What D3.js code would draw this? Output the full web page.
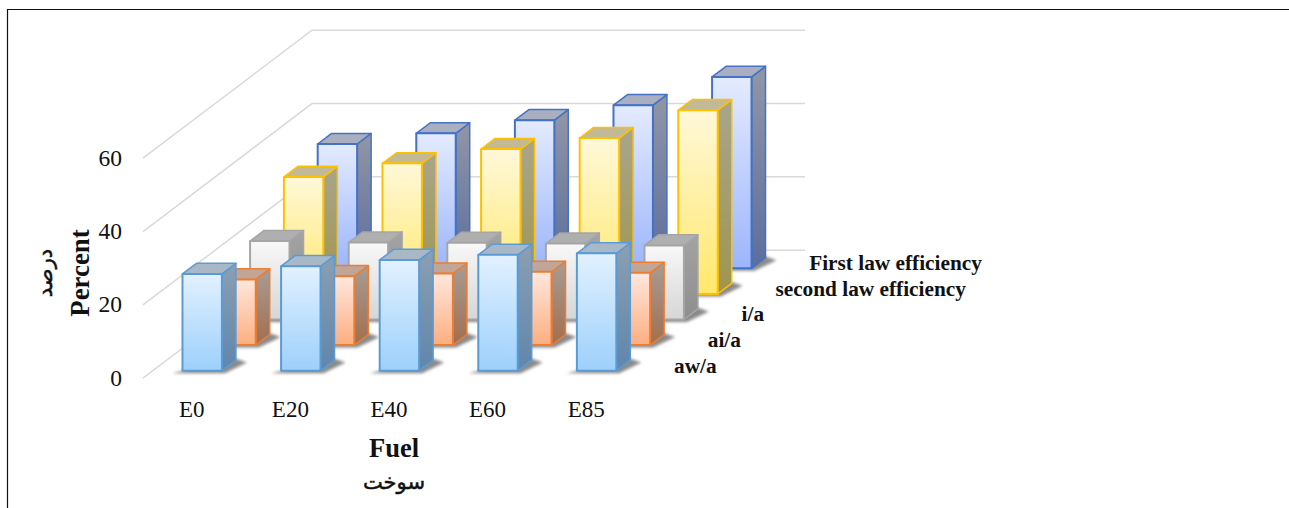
<!DOCTYPE html>
<html>
<head>
<meta charset="utf-8">
<script src="https://cdn.jsdelivr.net/npm/d3@7"></script>
<style>
    html, body { margin: 0; padding: 0; background: #fff; overflow: hidden; }
    text { font-family: "Liberation Serif", serif; fill: #111; }
    .fa { font-family: "DejaVu Sans", sans-serif; stroke: #111; stroke-width: 0.5px; }
</style>
</head>
<body>
<svg id="chart" width="1289" height="508"></svg>
<script>
const fuels = ['E0', 'E20', 'E40', 'E60', 'E85'];
// front row first
const series = ['aw/a', 'ai/a', 'i/a', 'second law efficiency', 'First law efficiency'];
const yTicks = [0, 20, 40, 60];

const awA = [26.4, 28.5, 30.2, 31.6, 32.0];
const aiA = [17.9, 18.8, 19.5, 20.0, 19.7];
const iA = [21.4, 21.0, 20.9, 20.7, 20.2];
const secondLaw = [31.9, 35.6, 39.5, 42.5, 50.1];
const firstLaw = [33.9, 36.8, 40.4, 44.5, 52.2];
const values = [awA, aiA, iA, secondLaw, firstLaw];

// front, side, top face colours for each row
const faceColors = [
    { stroke: '#5b9bd5', front: ['#e2f1ff', '#9dd0fb'], side: ['#8b9fb2', '#5f86ac'], top: '#a9b8c6' },
    { stroke: '#ed7d31', front: ['#ffe7de', '#fdae80'], side: ['#a89c95', '#a26e4e'], top: '#c1a698' },
    { stroke: '#a5a5a5', front: ['#f8f8f8', '#d6d6d6'], side: ['#a3a3a3', '#8e8e8e'], top: '#afafaf' },
    { stroke: '#ffc000', front: ['#fff8d9', '#ffe86c'], side: ['#a9a58b', '#a0954e'], top: '#c2ba96' },
    { stroke: '#4472c4', front: ['#e4ebff', '#9cb6fc'], side: ['#9296a6', '#5b6e9e'], top: '#a9afc1' }
];

let svg = d3.select('#chart');

// floor runs from the front-left corner up to the back-left corner
let floorLeft = 143, floorRight = 636;
let depthRun = 169, depthRise = 128;

let x = d3.scaleBand()
    .domain(fuels)
    .range([floorLeft, floorRight])
    .paddingInner(0.6)
    .paddingOuter(0.3);
let y = d3.scaleLinear()
    .domain([0, 60])
    .range([378.2, 158.2]);
let depth = d3.scaleBand()
    .domain(series)
    .range([0, depthRun])
    .paddingInner(0.586)
    .paddingOuter(0.293);

// d is a horizontal shift along the depth axis
function px(xpos, d) { return xpos + d; }
function py(ypos, d) { return ypos - d * depthRise / depthRun; }
function poly(points) { return points.map(p => p.join(',')).join(' '); }

let defs = svg.append('defs');
defs.append('filter')
    .attr('id', 'soft')
    .attr('x', '-20%').attr('y', '-50%').attr('width', '140%').attr('height', '200%')
    .append('feGaussianBlur')
    .attr('stdDeviation', 1.8);

function addGradient(id, colors) {
    let g = defs.append('linearGradient')
        .attr('id', id)
        .attr('x1', 0).attr('y1', 0).attr('x2', 0).attr('y2', 1);
    g.append('stop').attr('offset', '0%').attr('stop-color', colors[0]);
    g.append('stop').attr('offset', '100%').attr('stop-color', colors[1]);
}
faceColors.forEach((c, i) => {
    addGradient('front' + i, c.front);
    addGradient('side' + i, c.side);
});

// outer frame
svg.append('path')
    .attr('d', 'M7.5,508V9.5H1289')
    .attr('fill', 'none')
    .attr('stroke', '#111')
    .attr('stroke-width', 1.2);

// gridlines: wall part plus the slanted part on the side wall
let grid = svg.append('g')
    .attr('fill', 'none')
    .attr('stroke', '#d9d9d9')
    .attr('stroke-width', 1.5);
yTicks.forEach(t => {
    grid.append('polyline')
        .attr('points', poly([
            [floorLeft, y(t)],
            [px(floorLeft, depthRun), py(y(t), depthRun)],
            [px(floorRight, depthRun), py(y(t), depthRun)]
        ]));
});

// back rows first so the front ones cover them
d3.range(series.length - 1, -1, -1).forEach(row => {
    let name = series[row];
    let d0 = depth(name);
    let d1 = d0 + depth.bandwidth();
    let g = svg.append('g').attr('class', 'row');

    values[row].forEach((v, i) => {
        let x0 = x(fuels[i]);
        let x1 = x0 + x.bandwidth();
        let base = y(0);
        let top = y(v);

        // soft floor shadow
        g.append('polygon')
            .attr('points', poly([
                [px(x0, d0) - 10, py(base, d0) + 2.5],
                [px(x1, d0) + 3, py(base, d0) + 2.5],
                [px(x1, d1) + 11, py(base, d1) + 2.5],
                [px(x1, d1) - 2, py(base, d1) - 2]
            ]))
            .attr('fill', '#8a8a8a')
            .attr('filter', 'url(#soft)');

        g.append('polygon')
            .attr('points', poly([
                [px(x1, d0), py(base, d0)],
                [px(x1, d1), py(base, d1)],
                [px(x1, d1), py(top, d1)],
                [px(x1, d0), py(top, d0)]
            ]))
            .attr('fill', `url(#side${row})`)
            .attr('stroke', faceColors[row].stroke)
            .attr('stroke-width', 1.5)
            .attr('stroke-linejoin', 'round');

        g.append('polygon')
            .attr('points', poly([
                [px(x0, d0), py(top, d0)],
                [px(x1, d0), py(top, d0)],
                [px(x1, d1), py(top, d1)],
                [px(x0, d1), py(top, d1)]
            ]))
            .attr('fill', faceColors[row].top)
            .attr('stroke', faceColors[row].stroke)
            .attr('stroke-width', 1.5)
            .attr('stroke-linejoin', 'round');

        g.append('polygon')
            .attr('points', poly([
                [px(x0, d0), py(base, d0)],
                [px(x1, d0), py(base, d0)],
                [px(x1, d0), py(top, d0)],
                [px(x0, d0), py(top, d0)]
            ]))
            .attr('fill', `url(#front${row})`)
            .attr('stroke', faceColors[row].stroke)
            .attr('stroke-width', 2)
            .attr('stroke-linejoin', 'round');
    });
});

// value axis, labels only
let axisY = d3.axisLeft(y).tickValues(yTicks).tickSize(0).tickPadding(0);
svg.append('g')
    .attr('transform', 'translate(122,-0.5)')
    .call(axisY)
    .call(g => g.select('.domain').remove())
    .call(g => g.selectAll('text').attr('font-size', 23.5).attr('font-family', '"Liberation Serif", serif'));

// fuel axis
let axisX = d3.axisBottom(x).tickSize(0).tickPadding(0);
svg.append('g')
    .attr('transform', 'translate(-0.5,400.5)')
    .call(axisX)
    .call(g => g.select('.domain').remove())
    .call(g => g.selectAll('text').attr('font-size', 23).attr('font-family', '"Liberation Serif", serif'));

// row names step back along the depth axis
svg.append('g')
    .selectAll('text')
    .data(series)
    .enter().append('text')
    .attr('x', d => 674 + (depth(d) - depth(series[0])))
    .attr('y', d => py(372.6, depth(d) - depth(series[0])))
    .attr('font-size', 21.3)
    .attr('font-weight', 'bold')
    .text(d => d);

// axis titles
svg.append('text')
    .attr('x', 394).attr('y', 457)
    .attr('text-anchor', 'middle')
    .attr('font-size', 26.5)
    .attr('font-weight', 'bold')
    .text('Fuel');
svg.append('text')
    .attr('class', 'fa')
    .attr('x', 394).attr('y', 489)
    .attr('text-anchor', 'middle')
    .attr('font-size', 21)
    .attr('direction', 'rtl')
    .text('سوخت');
svg.append('text')
    .attr('transform', 'translate(89,273) rotate(-90)')
    .attr('text-anchor', 'middle')
    .attr('font-size', 26.8)
    .attr('font-weight', 'bold')
    .text('Percent');
svg.append('text')
    .attr('class', 'fa')
    .attr('transform', 'translate(52,273) rotate(-90)')
    .attr('text-anchor', 'middle')
    .attr('font-size', 21)
    .attr('direction', 'rtl')
    .text('درصد');
</script>
</body>
</html>
